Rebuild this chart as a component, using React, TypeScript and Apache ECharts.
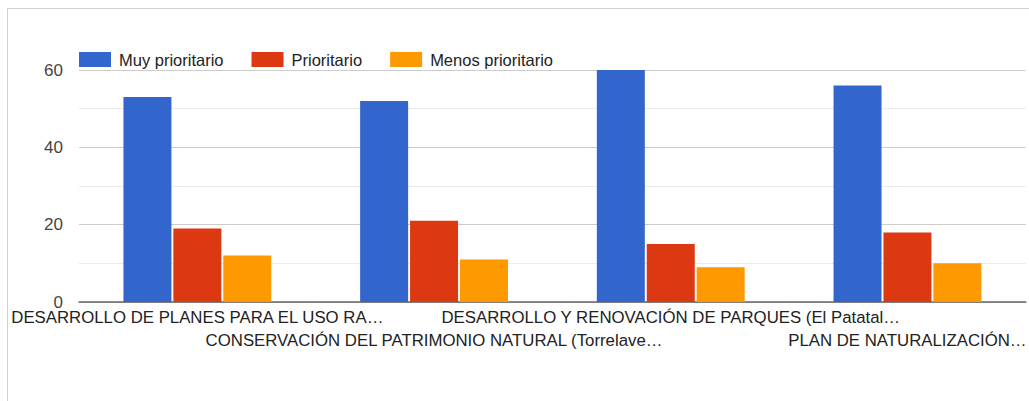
import React, { useEffect, useRef } from "react";
import * as echarts from "echarts";

const categories = [
  "DESARROLLO DE PLANES PARA EL USO RA…",
  "CONSERVACIÓN DEL PATRIMONIO NATURAL (Torrelave…",
  "DESARROLLO Y RENOVACIÓN DE PARQUES (El Patatal…",
  "PLAN DE NATURALIZACIÓN…",
];
const seriesNames = ["Muy prioritario", "Prioritario", "Menos prioritario"];
const muyPrioritario = [53, 52, 60, 56];
const prioritario = [19, 21, 15, 18];
const menosPrioritario = [12, 11, 9, 10];
const colors = ["#3366cc", "#dc3912", "#ff9900"];

const FONT = "Arial, 'Liberation Sans', sans-serif";

export default function App() {
  const ref = useRef<HTMLDivElement>(null);
  useEffect(() => {
    if (!ref.current) return;
    const chart = echarts.init(ref.current, null, { renderer: "svg" });
    const values = [muyPrioritario, prioritario, menosPrioritario];
    chart.setOption({
      animation: false,
      textStyle: { fontFamily: FONT },
      legend: {
        left: 79,
        top: 51,
        padding: 0,
        icon: "rect",
        itemWidth: 32,
        itemHeight: 15,
        itemGap: 28,
        textStyle: { fontSize: 16.5, color: "#222", fontFamily: FONT, padding: [0, 0, 0, 3] },
        data: seriesNames,
      },
      grid: { left: 79, right: -2, top: 70, height: 232, containLabel: false },
      xAxis: {
        type: "category",
        data: categories,
        axisTick: { show: false },
        axisLine: { lineStyle: { color: "#666", width: 1.5 } },
        axisLabel: {
          interval: 0,
          hideOverlap: false,
          color: "#222",
          fontSize: 16.8,
          fontFamily: FONT,
          margin: 4,
          lineHeight: 23,
          formatter: (v: string, i: number) => (i % 2 === 1 ? "\n" + v : v),
        },
      },
      yAxis: {
        type: "value",
        min: 0,
        max: 60,
        interval: 20,
        axisLine: { show: false },
        axisTick: { show: false },
        axisLabel: { color: "#444", fontSize: 17, fontFamily: FONT, margin: 16 },
        splitLine: { lineStyle: { color: "#cccccc", width: 1 } },
        minorTick: { show: false, splitNumber: 2 },
        minorSplitLine: { show: true, lineStyle: { color: "#ebebeb", width: 1 } },
      },
      series: seriesNames.map((name, k) => ({
        name,
        type: "bar",
        data: values[k],
        barWidth: 48,
        barGap: "4%",
        itemStyle: { color: colors[k] },
      })),
    });
    return () => chart.dispose();
  }, []);
  return (
    <div style={{ position: "fixed", left: 0, top: 0, width: 1029, height: 401, overflow: "hidden", background: "#fff" }}>
      <div
        style={{
          position: "absolute",
          left: 7,
          top: 8,
          width: 1100,
          height: 500,
          borderLeft: "1px solid #d0d0d0",
          borderTop: "1px solid #d0d0d0",
        }}
      />
      <div ref={ref} style={{ position: "absolute", left: 0, top: 0, width: 1029, height: 401 }} />
    </div>
  );
}
